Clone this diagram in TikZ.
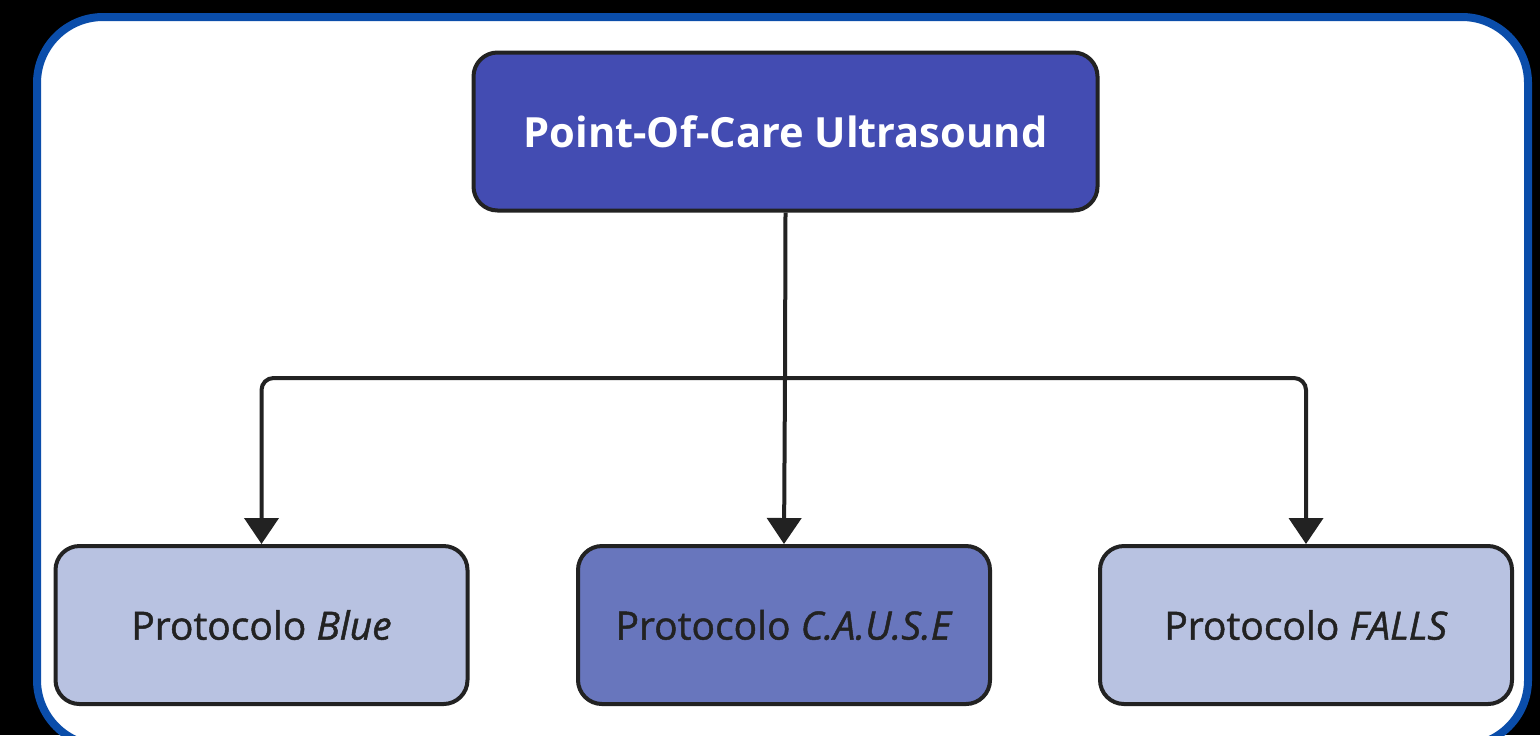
\documentclass[tikz,border=0pt]{standalone}
\usepackage{fontspec}
\setmainfont{Open Sans}
\newfontfamily\semib[FakeBold=1.2]{Open Sans}
\usetikzlibrary{arrows.meta}
\definecolor{frameblue}{HTML}{0A4DAA}
\definecolor{topfill}{HTML}{434CB2}
\definecolor{lightfill}{HTML}{B8C2E1}
\definecolor{midfill}{HTML}{6876BD}
\definecolor{edge}{HTML}{222222}
\tikzset{
  box/.style={draw=edge, line width=2pt, rounded corners=12pt, minimum width=206pt, minimum height=79pt, inner sep=0pt, font=\semib\fontsize{19.5}{23}\selectfont, text=edge},
  topbox/.style={box, fill=topfill, minimum width=312pt, minimum height=79pt, text=white, font=\fontsize{20.8}{25}\selectfont\bfseries},
  conn/.style={draw=edge, line width=2pt, rounded corners=6pt},
  arr/.style={conn, -{Triangle[width=17pt,length=13pt]}}
}
\begin{document}
\begin{tikzpicture}[x=0.5pt,y=-0.5pt]
\useasboundingbox (0,0) rectangle (1540,735);
\fill[black] (0,0) rectangle (1540,735);
\begin{scope}
\clip (0,0) rectangle (1540,735);
\draw[frameblue, fill=white, line width=4pt, rounded corners=33pt] (37,17) rectangle (1528,746);
\end{scope}
\node[topbox] (top) at (785.5,131.5) {Point-Of-Care Ultrasound};
\node[box, fill=lightfill] (b1) at (261.5,625) {Protocolo \textit{Blue}};
\node[box, fill=midfill] (b2) at (784,625) {Protocolo \textit{C.A.U.S.E}};
\node[box, fill=lightfill] (b3) at (1306,625) {Protocolo \textit{FALLS}};
\coordinate (j) at (785,378);
\draw[conn] (top.south) -- (j);
\draw[arr] (j) -| (b1.north);
\draw[arr] (j) -- (b2.north);
\draw[arr] (j) -| (b3.north);
\end{tikzpicture}
\end{document}
